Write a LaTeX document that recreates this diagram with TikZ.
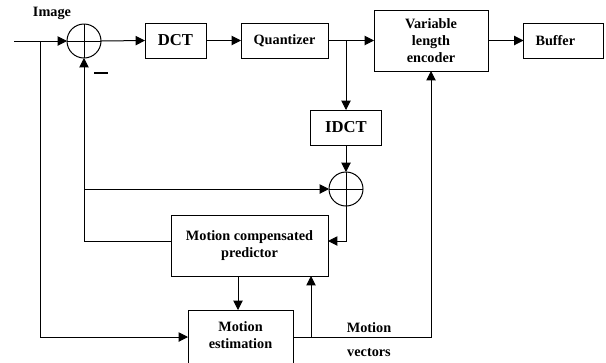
\documentclass[tikz,border=0pt]{standalone}
\usepackage{fontspec}
\setmainfont{Liberation Serif}
\usetikzlibrary{arrows.meta}
\begin{document}
\begin{tikzpicture}[x=0.75pt,y=-0.75pt,
  every node/.style={font=\fontsize{10.7}{12.75}\selectfont\bfseries, align=center},
  box/.style={draw, line width=0.75pt, inner sep=0pt, outer sep=0pt, minimum height=26.25pt},
  big/.style={font=\fontsize{12.5}{14}\selectfont\bfseries},
  sum/.style={draw, circle, line width=0.75pt, minimum size=25.5pt, inner sep=0pt, outer sep=0pt,
    path picture={\draw[line width=0.6pt] (path picture bounding box.north) -- (path picture bounding box.south)
      (path picture bounding box.west) -- (path picture bounding box.east);}},
  arr/.style={line width=0.75pt, -{Triangle[length=7pt,width=7pt]}},
  ln/.style={line width=0.75pt}]
\clip (0,0) rectangle (606,362);
\fill[white] (0,0) rectangle (606,362);
% nodes
\node[sum] (s1) at (84,41) {};
\node[box, big, minimum width=45.75pt] (dct) at (175.5,40.5) {DCT};
\node[box, minimum width=65.25pt] (q) at (284.5,40.5) {Quantizer};
\node[box, minimum width=85.5pt, minimum height=45.75pt] (vle) at (431,40.5) {Variable\\length\\encoder};
\node[box, inner xsep=9pt, text width=42pt, align=left] (buf) at (563.5,40.5) {Buffer};
\node[box, big, minimum width=53.25pt] (idct) at (346,127.5) {IDCT};
\node[sum] (s2) at (346,189) {};
\node[box, minimum width=117.75pt, minimum height=45.75pt] (pred) at (249.5,245.5) {Motion compensated\\predictor};
\node[box, minimum width=78.75pt, minimum height=52.5pt,
  label={[anchor=north, align=center, yshift=-5.5pt]north:Motion\\estimation}] (me) at (240.5,345) {};
\node (img) at (52,13) {Image};
\node (mot) at (369,328) {Motion};
\node (vec) at (369,353) {vectors};
\node[inner sep=0pt] (minus) at (101,73) {\rule{10.5pt}{0.9pt}};
% coordinates
\coordinate (in) at (14,41);
\coordinate (b1) at (40,41);
\coordinate (mv) at (0,337);
\coordinate (pl) at (0,241);
\coordinate (px) at (238,0);
\coordinate (b2) at (idct.north|-q.east);
\coordinate (b3) at (s1.south|-s2.west);
\coordinate (b4) at (311,337);
% connectors
\draw[arr] (in) -- (s1.west);
\draw[arr] (b1) |- (me.west|-mv);
\draw[arr] (s1.east) -- (dct.west);
\draw[arr] (dct.east) -- (q.west);
\draw[arr] (q.east) -- (vle.west);
\draw[arr] (b2) -- (idct.north);
\draw[arr] (vle.east) -- (buf.west);
\draw[arr] (idct.south) -- (s2.north);
\draw[arr] (pred.west|-pl) -| (s1.south);
\draw[arr] (b3) -- (s2.west);
\draw[arr] (s2.south) |- (pred.east|-pl);
\draw[arr] (pred.south-|px) -- (me.north-|px);
\draw[arr] (me.east|-mv) -| (vle.south);
\draw[arr] (b4) -- (b4|-pred.south);
\end{tikzpicture}
\end{document}
